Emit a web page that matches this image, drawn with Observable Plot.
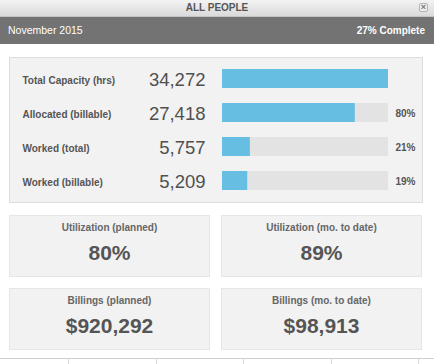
<!DOCTYPE html>
<html>
<head>
<meta charset="utf-8">
<script src="https://cdn.jsdelivr.net/npm/d3@7"></script>
<script src="https://cdn.jsdelivr.net/npm/@observablehq/plot@0.6"></script>
<style>
  html, body { margin: 0; padding: 0; background: #fff; }
  body { font-family: "Liberation Sans", Arial, Helvetica, sans-serif; }
  #root { position: relative; width: 434px; height: 364px; overflow: hidden; background: #fff; }
  .titlebar { position: absolute; left: 0; top: 0; width: 434px; height: 17px;
    background: linear-gradient(#f3f3f3, #dadada); border-bottom: 1px solid #c4c4c4; box-sizing: border-box;
    text-align: center; font-weight: bold; font-size: 10px; line-height: 16px; color: #555; }
  .close { position: absolute; left: 419px; top: 3px; width: 9px; height: 9px; box-sizing: border-box;
    border: 1px solid #b5b5b5; border-radius: 2px; background: #eee; font-size: 9px; line-height: 7px; color: #777; text-align: center; }
  .subbar { position: absolute; left: 0; top: 17px; width: 434px; height: 27px; background: #737373; color: #fff; }
  .subbar .l { position: absolute; left: 8px; top: 0; line-height: 27px; font-size: 10.5px; }
  .subbar .r { position: absolute; right: 9px; top: 0; line-height: 27px; font-size: 10px; font-weight: bold; }
  .panel { position: absolute; left: 9px; top: 57px; width: 414px; height: 146px; box-sizing: border-box;
    background: #f2f2f2; border: 1px solid #dcdcdc; }
  .panel svg { position: absolute; left: 0; top: 0; }
  .card { position: absolute; width: 201px; height: 62px; box-sizing: border-box; background: #f2f2f2; border: 1px solid #e6e6e6; text-align: center; color: #555; }
  .card .t { position: absolute; left: 0; right: 0; top: 6px; font-size: 10px; font-weight: bold; color: #666; }
  .card .v { position: absolute; left: 0; right: 0; top: 25px; font-size: 21px; font-weight: bold; color: #555; }
  .bottomline { position: absolute; left: 0; top: 358px; width: 434px; height: 6px; border-top: 1px solid #cfcfcf; }
  .vt { position: absolute; top: 359px; width: 1px; height: 5px; background: #dadada; }
</style>
</head>
<body>
<div id="root">
  <div class="titlebar">ALL PEOPLE<div class="close">×</div></div>
  <div class="subbar"><span class="l" id="month"></span><span class="r" id="complete"></span></div>
  <div class="panel" id="panel"></div>
  <div id="cards"></div>
  <div class="bottomline"></div>
  <div class="vt" style="left:68px"></div>
  <div class="vt" style="left:156px"></div>
  <div class="vt" style="left:243px"></div>
  <div class="vt" style="left:331px"></div>
  <div class="vt" style="left:418px"></div>
</div>
<script>
// ---- data ----
const title = "ALL PEOPLE";
const monthLabel = "November 2015";
const completeLabel = "27% Complete";
const categories = ["Total Capacity (hrs)", "Allocated (billable)", "Worked (total)", "Worked (billable)"];
const values = [34272, 27418, 5757, 5209];
const pctLabels = ["", "80%", "21%", "19%"];
const cardTitles = ["Utilization (planned)", "Utilization (mo. to date)", "Billings (planned)", "Billings (mo. to date)"];
const cardValues = ["80%", "89%", "$920,292", "$98,913"];

document.getElementById("month").textContent = monthLabel;
document.getElementById("complete").textContent = completeLabel;

const capacity = values[0];
const rows = categories.map((c, i) => ({cat: c, value: values[i], pct: pctLabels[i]}));
const ff = "Liberation Sans, Arial, Helvetica, sans-serif";

const chart = Plot.plot({
  width: 412,
  height: 144,
  marginLeft: 0, marginRight: 0, marginTop: 0, marginBottom: 0,
  style: {background: "transparent", fontFamily: ff},
  x: {axis: null, domain: [0, capacity], range: [212, 378]},
  y: {axis: null, type: "band", domain: categories, range: [4, 140], paddingInner: 0.44, paddingOuter: 0.22},
  marks: [
    Plot.barX(rows, {x1: 0, x2: () => capacity, y: "cat", fill: "#e3e3e3"}),
    Plot.barX(rows, {x: "value", y: "cat", fill: "#66bfe3"}),
    Plot.text(rows, {y: "cat", text: "cat", frameAnchor: "left", dx: 12, dy: 1.5, textAnchor: "start",
      fontSize: 10, fontWeight: "bold", fill: "#555", fontFamily: ff}),
    Plot.text(rows, {y: "cat", text: d => d3.format(",")(d.value), frameAnchor: "left", dx: 195, dy: 1, textAnchor: "end",
      fontSize: 18.5, fill: "#505050", fontFamily: ff}),
    Plot.text(rows, {y: "cat", text: "pct", frameAnchor: "left", dx: 385, dy: 0.5, textAnchor: "start",
      fontSize: 10, fontWeight: "bold", fill: "#555", fontFamily: ff})
  ]
});
document.getElementById("panel").appendChild(chart);

// cards
const cardPos = [[9, 215], [221, 215], [9, 288], [221, 288]];
const cardsEl = document.getElementById("cards");
cardTitles.forEach((t, i) => {
  const d = document.createElement("div");
  d.className = "card";
  d.style.left = cardPos[i][0] + "px";
  d.style.top = cardPos[i][1] + "px";
  const te = document.createElement("div"); te.className = "t"; te.textContent = t;
  const ve = document.createElement("div"); ve.className = "v"; ve.textContent = cardValues[i];
  d.appendChild(te); d.appendChild(ve);
  cardsEl.appendChild(d);
});
</script>
</body>
</html>
